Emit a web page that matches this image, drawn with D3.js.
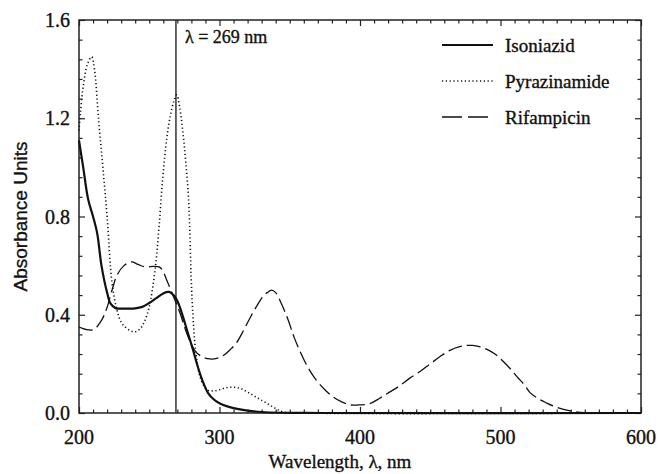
<!DOCTYPE html>
<html lang="en">
<head>
    <meta charset="UTF-8">
    <title>Absorbance spectra</title>
    <script src="https://d3js.org/d3.v7.min.js"></script>
    <style>
        body { margin: 0; background: white; }
        text { font-family: "Liberation Serif", "DejaVu Serif", serif; fill: #111; stroke: #111; stroke-width: 0.35px; }
        text.sans { font-family: "Liberation Sans", Arial, sans-serif; }
    </style>
</head>
<body>
<script>
    // spectra (wavelength nm, absorbance)
    var isoX = [200,203,206.5,210,213,216,220,222.5,226,230,235,240,245,250,255,260,264,269,273,277,281,285,288,292,296,300,305,310,320,330,345,370,600];
    var isoY = [1.11,1.0,0.87,0.8,0.73,0.6,0.49,0.445,0.427,0.425,0.425,0.426,0.432,0.448,0.468,0.487,0.493,0.467,0.41,0.335,0.26,0.18,0.13,0.08,0.055,0.04,0.028,0.02,0.01,0.004,0.001,0,0];

    var pyrX = [200,201,203,206,209,211,214,217,220,223.5,227,230,234,239,243,246,249,251,254.5,257,259.5,262.5,265,267.5,269.5,271.5,274,276,278,280.5,283,286,289,292,296,300,305,310,315,320,326,332,338,345,360,600];
    var pyrY = [1.15,1.22,1.33,1.42,1.45,1.40,1.19,1.0,0.8,0.53,0.42,0.37,0.345,0.33,0.34,0.365,0.41,0.46,0.6,0.76,0.95,1.12,1.21,1.27,1.295,1.25,1.14,1.02,0.87,0.46,0.255,0.15,0.11,0.092,0.09,0.095,0.103,0.105,0.1,0.085,0.065,0.045,0.025,0.005,0,0];

    var rifX = [200,205,210.5,216,220,223.5,227,232,237.5,242,247,253,257,259.5,262.5,267.5,272,277,283,288,293,298,303,308,312,317,322,327,331,334,337,340,344,349,353,357,363,369,375,381,387,393,400,407,414,421,428,435,443,450,457,464,471,476,480,485,490,496,502,507,512,517,521,527,533,539,545,552,560,600];
    var rifY = [0.35,0.34,0.34,0.377,0.43,0.5,0.56,0.6,0.615,0.605,0.595,0.597,0.595,0.58,0.54,0.47,0.405,0.32,0.25,0.228,0.22,0.222,0.235,0.26,0.285,0.335,0.39,0.44,0.475,0.49,0.5,0.49,0.446,0.377,0.31,0.255,0.185,0.133,0.095,0.065,0.045,0.033,0.033,0.038,0.06,0.085,0.11,0.14,0.17,0.2,0.23,0.255,0.27,0.275,0.275,0.27,0.26,0.24,0.21,0.18,0.146,0.115,0.083,0.058,0.04,0.025,0.015,0.006,0.001,0];

    var seriesNames = ["Isoniazid", "Pyrazinamide", "Rifampicin"];
    var xTicks = [200, 300, 400, 500, 600];
    var yTicks = [0.0, 0.4, 0.8, 1.2, 1.6];
    var markerWave = 269;

    var width = 659, height = 474;
    var margin = {top: 20, right: 18, bottom: 61, left: 79};

    var svg = d3.select("body").append("svg")
        .attr("width", width)
        .attr("height", height)
        .style("background", "white");

    var x = d3.scaleLinear().domain([200, 600]).range([margin.left, width - margin.right]);
    var y = d3.scaleLinear().domain([0, 1.6]).range([height - margin.bottom, margin.top]);

    var x0 = x.range()[0], x1 = x.range()[1], y0 = y.range()[0], y1 = y.range()[1];

    // minor ticks every 10 nm and every 0.08 units, all pointing inward
    var xMinor = d3.range(200, 600.1, 10).filter(function (d) { return xTicks.indexOf(d) < 0; });
    var yMinor = d3.range(0, 1.61, 0.08).filter(function (d) {
        return !yTicks.some(function (t) { return Math.abs(t - d) < 1e-6; });
    });

    function tickAxis(axisFn, scale, vals, size, pos, isX) {
        var g = svg.append("g")
            .attr("transform", isX ? "translate(0," + pos + ")" : "translate(" + pos + ",0)")
            .call(axisFn(scale).tickValues(vals).tickSize(size).tickFormat(""));
        g.select(".domain").remove();
        g.selectAll(".tick line").attr("stroke", "#222").attr("stroke-width", 1.2);
        return g;
    }
    // bottom / top
    tickAxis(d3.axisTop, x, xTicks, 6, y0, true);
    tickAxis(d3.axisTop, x, xMinor, 3.5, y0, true);
    tickAxis(d3.axisBottom, x, xTicks, 6, y1, true);
    tickAxis(d3.axisBottom, x, xMinor, 3.5, y1, true);
    // left / right
    tickAxis(d3.axisRight, y, yTicks, 6, x0, false);
    tickAxis(d3.axisRight, y, yMinor, 3.5, x0, false);
    tickAxis(d3.axisLeft, y, yTicks, 6, x1, false);
    tickAxis(d3.axisLeft, y, yMinor, 3.5, x1, false);

    // frame
    svg.append("rect")
        .attr("x", x0).attr("y", y1)
        .attr("width", x1 - x0).attr("height", y0 - y1)
        .attr("fill", "none").attr("stroke", "#222").attr("stroke-width", 1.5);

    // tick labels
    svg.selectAll(".xlab").data(xTicks).enter().append("text")
        .attr("class", "xlab")
        .attr("x", function (d) { return x(d); })
        .attr("y", y0 + 31)
        .attr("text-anchor", "middle")
        .attr("font-size", "20px")
        .text(function (d) { return d; });

    svg.selectAll(".ylab").data(yTicks).enter().append("text")
        .attr("class", "ylab")
        .attr("x", x0 - 9)
        .attr("y", function (d) { return y(d) + 7; })
        .attr("text-anchor", "end")
        .attr("font-size", "20px")
        .text(function (d) { return d.toFixed(1); });

    // axis titles
    svg.append("text")
        .attr("x", 340).attr("y", 468)
        .attr("text-anchor", "middle")
        .attr("font-size", "19px")
        .text("Wavelength, \u03bb, nm");

    svg.append("text")
        .attr("class", "sans")
        .attr("transform", "translate(27," + ((y0 + y1) / 2) + ") rotate(-90)")
        .attr("text-anchor", "middle")
        .attr("font-size", "19px")
        .text("Absorbance Units");

    // marker line at 269 nm
    svg.append("line")
        .attr("x1", x(markerWave)).attr("x2", x(markerWave))
        .attr("y1", y1).attr("y2", y0)
        .attr("stroke", "#333").attr("stroke-width", 1.5);
    svg.append("text")
        .attr("x", x(markerWave) + 9).attr("y", y1 + 23)
        .attr("font-size", "18px")
        .text("\u03bb = " + markerWave + " nm");

    // curves
    var line = d3.line()
        .x(function (d) { return x(d[0]); })
        .y(function (d) { return y(d[1]); })
        .curve(d3.curveCatmullRom.alpha(0.5));

    var styles = [
        {width: 2.2, dash: null},
        {width: 1.6, dash: "1.2,2.6"},
        {width: 1.3, dash: "14,5"}
    ];
    var series = [d3.zip(isoX, isoY), d3.zip(pyrX, pyrY), d3.zip(rifX, rifY)];

    series.forEach(function (pts, i) {
        svg.append("path")
            .datum(pts)
            .attr("d", line)
            .attr("fill", "none")
            .attr("stroke", "#111")
            .attr("stroke-width", styles[i].width)
            .attr("stroke-dasharray", styles[i].dash);
    });

    // legend
    var legend = svg.append("g").attr("transform", "translate(442,45)");
    seriesNames.forEach(function (name, i) {
        legend.append("line")
            .attr("x1", 0).attr("x2", 51)
            .attr("y1", i * 36).attr("y2", i * 36)
            .attr("stroke", "#111")
            .attr("stroke-width", styles[i].width)
            .attr("stroke-dasharray", i == 2 ? "20,6" : styles[i].dash);
        legend.append("text")
            .attr("x", 63).attr("y", i * 36 + 7)
            .attr("font-size", "19px")
            .text(name);
    });
</script>
</body>
</html>
